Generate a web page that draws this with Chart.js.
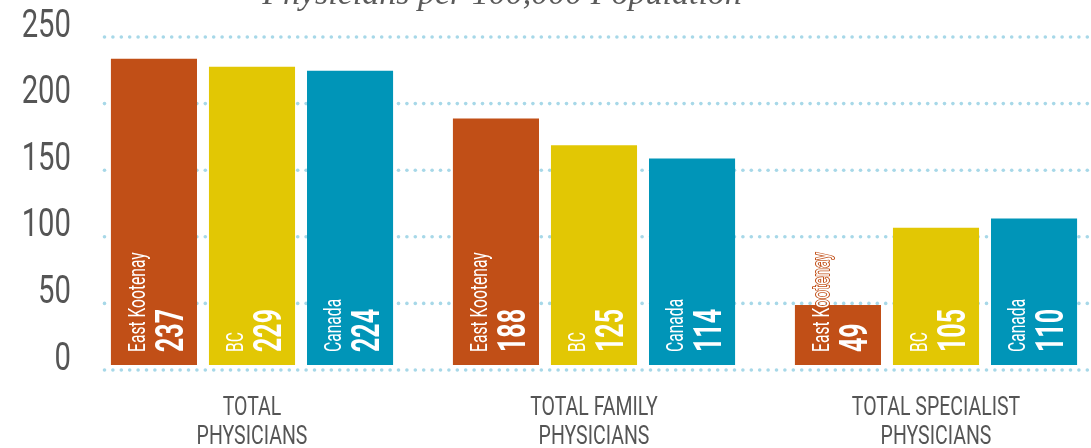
<!DOCTYPE html>
<html>
<head>
<meta charset="utf-8">
<script src="https://cdn.jsdelivr.net/npm/chart.js@4.4.1/dist/chart.umd.min.js"></script>
<style>
  html, body { margin: 0; background: #fff; overflow: hidden; }
  #wrap { width: 1107px; height: 448px; position: relative; }
</style>
</head>
<body>
<div id="wrap"><canvas id="js--grafiek1"></canvas></div>
<script>
// categories (two line tick labels)
const categories = [
  ['TOTAL', 'PHYSICIANS'],
  ['TOTAL FAMILY', 'PHYSICIANS'],
  ['TOTAL SPECIALIST', 'PHYSICIANS']
];
const regions = ['East Kootenay', 'BC', 'Canada'];

// bar heights as drawn in the picture
const eastKootenay = [230, 185, 45];
const bc = [224, 165, 103];
const canada = [221, 155, 110];

// numbers printed inside the bars
const ekLabels = ['237', '188', '49'];
const bcLabels = ['229', '125', '105'];
const canadaLabels = ['224', '114', '110'];

const yTicks = [0, 50, 100, 150, 200, 250];
const title = 'Physicians per 100,000 Population';

const colors = ['#C14F17', '#E2C704', '#0095B8'];
const sans = "Roboto, 'DejaVu Sans Condensed', sans-serif";

const valueLabels = [ekLabels, bcLabels, canadaLabels];

// squeezed text, the original uses a condensed face
function squeezed(ctx, text, x, y, font, sx, align, baseline, fill, rot, stroke) {
  ctx.save();
  ctx.translate(x, y);
  if (rot) ctx.rotate(-Math.PI / 2);
  ctx.scale(sx, 1);
  ctx.font = font;
  ctx.textAlign = align;
  ctx.textBaseline = baseline;
  if (stroke) {
    ctx.lineWidth = 2;
    ctx.lineJoin = 'round';
    ctx.strokeStyle = stroke;
    ctx.strokeText(text, 0, 0);
  }
  ctx.fillStyle = fill;
  ctx.fillText(text, 0, 0);
  ctx.restore();
}

// dotted gridlines, axis texts, title
const backdrop = {
  id: 'backdrop',
  beforeDatasetsDraw(chart) {
    const ctx = chart.ctx;
    const s = chart.scales.yGrid;
    const xs = chart.scales.x;
    ctx.save();
    ctx.fillStyle = '#a7d8e8';
    yTicks.forEach(v => {
      const y = s.getPixelForValue(v);
      for (let x = 104.5; x < chart.width + 4; x += 8.4) {
        ctx.beginPath();
        ctx.arc(x, y, 1.8, 0, Math.PI * 2);
        ctx.fill();
      }
      squeezed(ctx, String(v), 71, y - 10, '38px ' + sans, 0.77, 'right', 'middle', '#555');
    });
    categories.forEach((lines, i) => {
      const x = xs.getPixelForValue(i);
      lines.forEach((t, k) => {
        squeezed(ctx, t, x, xs.top + 39 + k * 29, '25px ' + sans, 0.78, 'center', 'middle', '#555');
      });
    });
    ctx.font = "italic 34px 'Liberation Serif', serif";
    ctx.fillStyle = '#5a5a5a';
    ctx.textAlign = 'center';
    ctx.textBaseline = 'alphabetic';
    ctx.fillText(title, 502, 4);
    ctx.restore();
  }
};

const barText = {
  id: 'barText',
  afterDatasetsDraw(chart) {
    const ctx = chart.ctx;
    chart.data.datasets.forEach((ds, d) => {
      const meta = chart.getDatasetMeta(d);
      meta.data.forEach((el, i) => {
        squeezed(ctx, regions[d], el.x - 9, el.base - 13, '23px ' + sans, 0.68, 'left', 'alphabetic', '#fff', true, colors[d]);
        squeezed(ctx, valueLabels[d][i], el.x + 29, el.base - 13, 'bold 39px ' + sans, 0.64, 'left', 'alphabetic', '#fff', true);
      });
    });
  }
};

const data = {
  labels: categories,
  datasets: [
    { label: regions[0], data: eastKootenay, backgroundColor: colors[0] },
    { label: regions[1], data: bc, backgroundColor: colors[1] },
    { label: regions[2], data: canada, backgroundColor: colors[2] }
  ]
};

const config = {
  type: 'bar',
  data: data,
  options: {
    responsive: true,
    maintainAspectRatio: false,
    animation: false,
    layout: { padding: { left: 0, right: 0, top: 37, bottom: 0 } },
    datasets: { bar: { categoryPercentage: 0.86, barPercentage: 0.878 } },
    plugins: { legend: { display: false }, tooltip: { enabled: false } },
    scales: {
      x: {
        grid: { display: false, drawTicks: false },
        border: { display: false },
        ticks: { display: false },
        afterFit(scale) { scale.height = 78; }
      },
      y: {
        display: false,
        min: -3.75,
        max: 246.25
      },
      yGrid: {
        position: 'left',
        min: 0,
        max: 250,
        grid: { display: false, drawTicks: false },
        border: { display: false },
        ticks: { display: false, stepSize: 50 },
        afterFit(scale) { scale.width = 81; }
      }
    }
  },
  plugins: [backdrop, barText]
};

const chart1 = new Chart(document.getElementById('js--grafiek1'), config);
</script>
</body>
</html>
